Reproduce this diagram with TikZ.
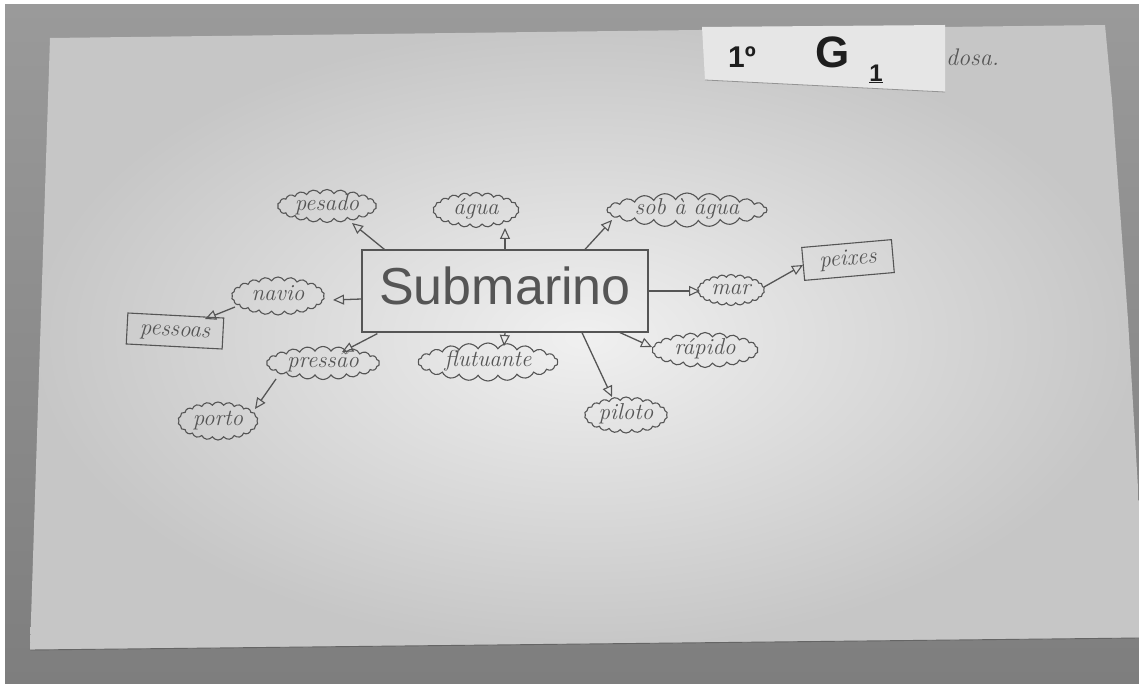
\documentclass[tikz,border=0pt]{standalone}
\usepackage{fontspec}
\newfontfamily\subfont{Liberation Sans}
\usetikzlibrary{shapes.symbols,shapes.geometric,arrows.meta}
\definecolor{bgtop}{HTML}{9A9A9A}
\definecolor{bgbot}{HTML}{7E7E7E}
\definecolor{paperin}{HTML}{F0F0F0}
\definecolor{paperout}{HTML}{C6C6C6}
\definecolor{inkc}{HTML}{555555}
\definecolor{markerc}{HTML}{1E1E1E}
\definecolor{stickerc}{HTML}{E6E6E6}
\newcommand{\ctext}[1]{\makebox[0pt]{\raisebox{-0.5ex}[0pt][0pt]{#1}}}
\tikzset{
  cloudnode/.style={cloud, cloud puffs=22, cloud puff arc=120, cloud ignores aspect,
    draw=inkc, line width=1.1pt, inner sep=0pt, text=inkc,
    font=\itshape\fontsize{23}{23}\selectfont},
  boxnode/.style={rectangle, draw=inkc, line width=1.1pt, inner sep=0pt, text=inkc,
    font=\itshape\fontsize{23}{23}\selectfont},
  subbox/.style={rectangle, draw=inkc, line width=1.2pt, inner sep=0pt, text=inkc,
    font=\subfont\fontsize{52}{52}\selectfont},
  conn/.style={draw=inkc, line width=1.3pt, -{Triangle[open, length=11pt, width=10pt, line width=1.1pt]}},
  marker/.style={text=markerc, inner sep=0pt, font=\subfont\bfseries},
}
\begin{document}
\begin{tikzpicture}[x=1pt,y=-1pt]
% backdrop
\fill[white] (0,0) rectangle (1139,684);
\shade[top color=bgtop, bottom color=bgbot] (5,5) rectangle (1139,684);
\useasboundingbox (0,0) rectangle (1139,684);
% paper sheet
\shade[inner color=paperin, outer color=paperout]
  (50,38) -- (1105,25) -- (1112,100) -- (1128,320) -- (1139,505) -- (1139,638) -- (30,650) -- cycle;
\draw[color=bgbot!80!black, line width=0.9pt] (30,650) -- (1139,638);
% sticker
\fill[stickerc] (702,27) -- (945,25) -- (945,92) -- (705,80) -- cycle;
\draw[color=paperout!75!black, line width=0.8pt] (705,80) -- (945,92);
\node[marker, font=\subfont\bfseries\fontsize{30}{30}\selectfont] (ord) at (742,57) {1º};
\node[marker, font=\subfont\bfseries\fontsize{44}{44}\selectfont] (gg) at (833,52) {G};
\node[marker, font=\subfont\bfseries\fontsize{24}{24}\selectfont] (gsub) at (876,74) {\underline{1}};
\node[text=inkc, inner sep=0pt, anchor=west, font=\itshape\fontsize{24}{24}\selectfont] (dosa) at (946,57) {dosa.};
% central node
\node[subbox, minimum width=286, minimum height=82] (sub) at (505,291) {\ctext{Submarino}};
% clouds
\node[cloudnode, minimum width=99, minimum height=33] (pesado) at (327,206) {\ctext{pesado}};
\node[cloudnode, minimum width=86, minimum height=35] (agua) at (476,210) {\ctext{água}};
\node[cloudnode, minimum width=160, minimum height=34] (sob) at (687,210) {\ctext{sob à água}};
\node[cloudnode, minimum width=93, minimum height=38] (navio) at (278,296) {\ctext{navio}};
\node[cloudnode, minimum width=113, minimum height=33] (pressao) at (323,363) {\ctext{pressão}};
\node[cloudnode, minimum width=80, minimum height=38] (porto) at (218,421) {\ctext{porto}};
\node[cloudnode, minimum width=140, minimum height=38] (flut) at (488,362) {\ctext{flutuante}};
\node[cloudnode, minimum width=83, minimum height=36] (piloto) at (626,415) {\ctext{piloto}};
\node[cloudnode, minimum width=106, minimum height=35] (rapido) at (705,350) {\ctext{rápido}};
\node[cloudnode, minimum width=67, minimum height=31] (mar) at (731,290) {\ctext{mar}};
% boxes
\node[boxnode, minimum width=96, minimum height=31, rotate=-3] (pessoas) at (175,331) {\ctext{pessoas}};
\node[boxnode, minimum width=90, minimum height=33, rotate=5] (peixes) at (848,260) {\ctext{peixes}};
% connectors
\draw[conn] ([shift={(23,0)}]sub.north west) -- ([shift={(25,17)}]pesado.center);
\draw[conn] (sub.north) -- ([shift={(29,18)}]agua.center);
\draw[conn] ([shift={(80,0)}]sub.north) -- ([shift={(-75,10)}]sob.center);
\draw[conn] ([shift={(0,8)}]sub.west) -- ([shift={(55,4)}]navio.center);
\draw[conn] ([shift={(-43,11)}]navio.center) -- ([shift={(30,-12)}]pessoas.center);
\draw[conn] ([shift={(16,1)}]sub.south west) -- ([shift={(19,-11)}]pressao.center);
\draw[conn] ([shift={(-47,16)}]pressao.center) -- ([shift={(37,-12)}]porto.center);
\draw[conn] (sub.south) -- ([shift={(16,-16)}]flut.center);
\draw[conn] ([shift={(77,0)}]sub.south) -- ([shift={(-14,-18)}]piloto.center);
\draw[conn] ([shift={(115,0)}]sub.south) -- ([shift={(-53,-3)}]rapido.center);
\draw[conn] (sub.east) -- ([shift={(-31,1)}]mar.center);
\draw[conn] ([shift={(33,-3)}]mar.center) -- ([shift={(-45,5)}]peixes.center);
\end{tikzpicture}
\end{document}
